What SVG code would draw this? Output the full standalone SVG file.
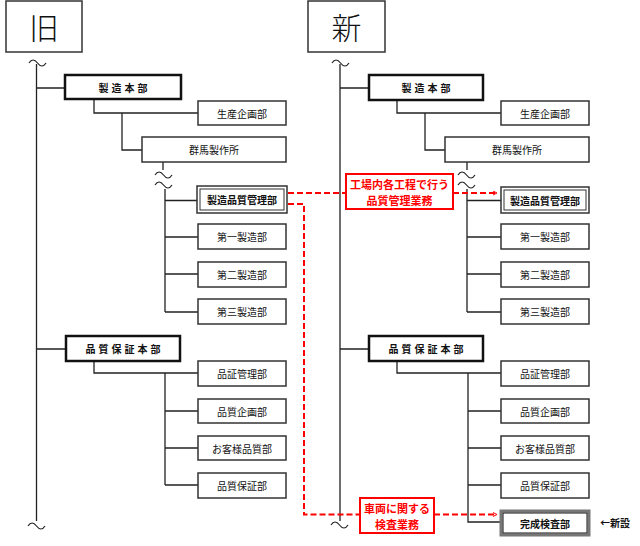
<svg xmlns="http://www.w3.org/2000/svg" xmlns:xlink="http://www.w3.org/1999/xlink" width="640" height="546" viewBox="0 0 640 546">
<style>
.box{fill:#fff;stroke:#333;stroke-width:1.5}
.hq{fill:#fff;stroke:#111;stroke-width:2.5}
.t{font-family:"Noto Sans CJK JP","Noto Sans CJK SC",sans-serif;font-size:10px;fill:#111;text-anchor:middle;dominant-baseline:central}
.tb{font-family:"Noto Sans CJK JP","Noto Sans CJK SC",sans-serif;font-size:10px;font-weight:bold;fill:#111;text-anchor:middle;dominant-baseline:central;letter-spacing:3px}
.hd{font-family:"Noto Sans CJK JP","Noto Sans CJK SC",sans-serif;font-size:30px;font-weight:300;fill:#111;text-anchor:middle;dominant-baseline:central}
.ln{fill:none;stroke:#222;stroke-width:1.3}
.rd{fill:none;stroke:#f00;stroke-width:2;stroke-dasharray:6,3}
.rbox{fill:#fff;stroke:#f00;stroke-width:2}
.rt{font-family:"Noto Sans CJK JP","Noto Sans CJK SC",sans-serif;font-size:11px;font-weight:bold;fill:#f00;text-anchor:middle;dominant-baseline:central}
.wv{fill:none;stroke:#222;stroke-width:1.2}
</style>
<defs>
<path id="tl" d="M0,0 c2.5,-4 5.5,-4 8.5,0 s6,4 8.5,0"/>
<marker id="ah" viewBox="0 0 10 10" refX="9" refY="5" markerWidth="5" markerHeight="5" orient="auto" markerUnits="userSpaceOnUse">
<path d="M1,1 L9,5 L1,9" fill="none" stroke="#f00" stroke-width="2"/>
</marker>
</defs>

<g id="connectors">
<!-- old tree -->
<path class="ln" d="M36.5,64 V521 M36.5,88 H65 M94,99 V113 H198 M122,113 V150 H142 M163,162 V170"/>
<path class="ln" d="M165,189 V312 M165,200.5 H197 M165,237 H198 M165,274 H198 M165,312 H198"/>
<path class="ln" d="M36.5,349 H66 M94,361 V373 H198 M165,373 V485 M165,411 H198 M165,448 H198 M165,485 H198"/>
<!-- new tree -->
<path class="ln" d="M340,64 V521 M340,88 H369 M397,100 V113 H501 M425,113 V150 H445 M467,162 V170"/>
<path class="ln" d="M467,189 V312 M467,200.5 H501 M467,237 H501 M467,274 H501 M467,312 H501"/>
<path class="ln" d="M340,349 H369 M397,361 V373 H501 M468,373 V522 H500 M468,411 H501 M468,448 H501 M468,485 H501"/>
<!-- wavy breaks -->
<use href="#tl" class="wv" x="29" y="63"/>
<use href="#tl" class="wv" x="28" y="526"/>
<use href="#tl" class="wv" x="155" y="175"/>
<use href="#tl" class="wv" x="155" y="185"/>
<use href="#tl" class="wv" x="332" y="63"/>
<use href="#tl" class="wv" x="331" y="525"/>
<use href="#tl" class="wv" x="458" y="175"/>
<use href="#tl" class="wv" x="458" y="185"/>
<!-- red dashed -->
<path class="rd" d="M288,193 H346"/>
<path class="rd" d="M453,193 H497" marker-end="url(#ah)"/>
<path class="rd" d="M288,204 H304 V514.5 H360"/>
<path class="rd" d="M434,514.5 H497" marker-end="url(#ah)"/>
</g>

<g id="head-old"><rect class="box" x="6" y="1" width="76" height="51"/><text class="hd" x="44" y="26">旧</text></g>
<g id="head-new"><rect class="box" x="308" y="1" width="77" height="51"/><text class="hd" x="346.5" y="26">新</text></g>

<!-- old nodes -->
<g id="o-seizo-hq"><rect class="hq" x="65" y="75" width="116" height="24"/><text class="tb" x="124.5" y="87">製造本部</text></g>
<g id="o-seisan"><rect class="box" x="198" y="101" width="88" height="24"/><text class="t" x="242" y="113">生産企画部</text></g>
<g id="o-gunma"><rect class="box" x="142" y="137" width="144" height="25"/><text class="t" x="214" y="149.5">群馬製作所</text></g>
<g id="o-seizohinshitsu"><rect class="box" x="197" y="186" width="90" height="27"/><rect fill="none" stroke="#333" stroke-width="1" x="200" y="189" width="84" height="21"/><text class="t" font-weight="bold" x="242" y="199.5">製造品質管理部</text></g>
<g id="o-dai1"><rect class="box" x="198" y="224" width="88" height="25"/><text class="t" x="242" y="236.5">第一製造部</text></g>
<g id="o-dai2"><rect class="box" x="198" y="262" width="88" height="25"/><text class="t" x="242" y="274.5">第二製造部</text></g>
<g id="o-dai3"><rect class="box" x="198" y="299" width="88" height="25"/><text class="t" x="242" y="311.5">第三製造部</text></g>
<g id="o-hinsho-hq"><rect class="hq" x="66" y="336" width="114" height="25"/><text class="tb" x="124.5" y="348.5">品質保証本部</text></g>
<g id="o-hinshokanri"><rect class="box" x="198" y="361" width="88" height="25"/><text class="t" x="242" y="373.5">品証管理部</text></g>
<g id="o-hinshitsukikaku"><rect class="box" x="198" y="399" width="88" height="24"/><text class="t" x="242" y="411">品質企画部</text></g>
<g id="o-okyakusama"><rect class="box" x="198" y="436" width="88" height="24"/><text class="t" x="242" y="448">お客様品質部</text></g>
<g id="o-hinshitsuhosho"><rect class="box" x="198" y="473" width="88" height="25"/><text class="t" x="242" y="485.5">品質保証部</text></g>

<!-- new nodes -->
<g id="n-seizo-hq"><rect class="hq" x="369" y="75" width="114" height="25"/><text class="tb" x="427.5" y="87.5">製造本部</text></g>
<g id="n-seisan"><rect class="box" x="501" y="101" width="88" height="24"/><text class="t" x="545" y="113">生産企画部</text></g>
<g id="n-gunma"><rect class="box" x="445" y="137" width="144" height="25"/><text class="t" x="517" y="149.5">群馬製作所</text></g>
<g id="n-seizohinshitsu"><rect class="box" x="501" y="187" width="88" height="26"/><rect fill="none" stroke="#333" stroke-width="1" x="504" y="190" width="82" height="20"/><text class="t" font-weight="bold" x="545" y="200">製造品質管理部</text></g>
<g id="n-dai1"><rect class="box" x="501" y="224" width="88" height="25"/><text class="t" x="545" y="236.5">第一製造部</text></g>
<g id="n-dai2"><rect class="box" x="501" y="262" width="88" height="25"/><text class="t" x="545" y="274.5">第二製造部</text></g>
<g id="n-dai3"><rect class="box" x="501" y="299" width="88" height="25"/><text class="t" x="545" y="311.5">第三製造部</text></g>
<g id="n-hinsho-hq"><rect class="hq" x="369" y="336" width="114" height="25"/><text class="tb" x="427.5" y="348.5">品質保証本部</text></g>
<g id="n-hinshokanri"><rect class="box" x="501" y="361" width="88" height="25"/><text class="t" x="545" y="373.5">品証管理部</text></g>
<g id="n-hinshitsukikaku"><rect class="box" x="501" y="399" width="88" height="24"/><text class="t" x="545" y="411">品質企画部</text></g>
<g id="n-okyakusama"><rect class="box" x="501" y="436" width="88" height="24"/><text class="t" x="545" y="448">お客様品質部</text></g>
<g id="n-hinshitsuhosho"><rect class="box" x="501" y="473" width="88" height="25"/><text class="t" x="545" y="485.5">品質保証部</text></g>
<g id="n-kansei"><rect fill="#fff" stroke="#777" stroke-width="3" x="501" y="511" width="88" height="24"/><rect fill="none" stroke="#111" stroke-width="1" x="503" y="513" width="84" height="20"/><text class="t" font-weight="bold" x="545" y="523">完成検査部</text></g>
<g id="n-shinsetsu-note"><text class="t" font-weight="bold" font-size="11px" x="615" y="522">←新設</text></g>

<!-- red labels -->
<g id="label-kojo"><rect class="rbox" x="346" y="174" width="107" height="35"/><text class="rt" x="399.5" y="184">工場内各工程で行う</text><text class="rt" x="399.5" y="199.5">品質管理業務</text></g>
<g id="label-sharyo"><rect class="rbox" x="360" y="498" width="74" height="35"/><text class="rt" x="397" y="508">車両に関する</text><text class="rt" x="397" y="523.5">検査業務</text></g>
</svg>
